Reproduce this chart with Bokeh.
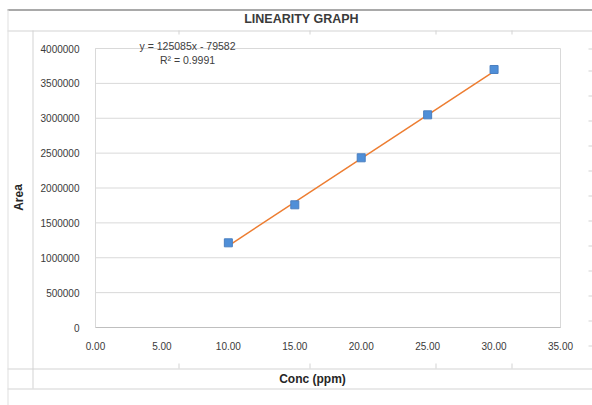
from bokeh.plotting import figure
from bokeh.models import (Range1d, FixedTicker, NumeralTickFormatter, PrintfTickFormatter,
                          Label, BoxAnnotation, LinearAxis)
from bokeh.embed import file_html
from bokeh.resources import INLINE

# ---- data ----
conc = [10, 15, 20, 25, 30]
area = [1214000, 1759000, 2433000, 3049000, 3699000]
slope = 125085
intercept = -79582
r2 = 0.9991
x_ticks = [0, 5, 10, 15, 20, 25, 30, 35]
y_ticks = [0, 500000, 1000000, 1500000, 2000000, 2500000, 3000000, 3500000, 4000000]
title_text = "LINEARITY GRAPH"
x_label = "Conc (ppm)"
y_label = "Area"

# ---- layout constants (page pixels) ----
W, H = 592, 405
FL, FT, FR, FB = 95, 48, 560, 327   # plot-area edges
X0, X1 = x_ticks[0], x_ticks[-1]
Y0, Y1 = y_ticks[0], y_ticks[-1]
kx = (FR - FL) / (X1 - X0)
ky = (FB - FT) / (Y1 - Y0)
FONT = "Liberation Sans"

p = figure(width=W, height=H, output_backend="svg", toolbar_location=None,
           x_axis_location=None, y_axis_location=None,
           x_range=Range1d(X0 - FL / kx, X1 + (W - FR) / kx),
           y_range=Range1d(Y0 - (H - FB) / ky, Y1 + FT / ky),
           min_border=0, min_border_left=0, min_border_right=0,
           min_border_top=0, min_border_bottom=0)
p.background_fill_color = "white"
p.border_fill_color = "white"
p.outline_line_color = None
p.grid.visible = False

# ---- spreadsheet background lines (screen units = canvas, y up) ----
def box(x0, x1, y0, y1, color):
    p.add_layout(BoxAnnotation(left=x0, right=x1, top=H - y0, bottom=H - y1,
                               left_units="screen", right_units="screen",
                               top_units="screen", bottom_units="screen",
                               fill_color=color, fill_alpha=1, line_color=None, level="underlay"))

def hline(x0, x1, y, color="#d4d4d4"):
    box(x0, x1, y, y + 1, color)

def vline(x, y0, y1, color="#d4d4d4"):
    box(x, x + 1, y0, y1, color)

hline(7, W, 9, "#555555")
hline(7, W, 30)
hline(7, W, 368)
hline(7, W, 388)
vline(7, 9, H, "#e0e0e0")
vline(32, 30, 388)
for cx in (178, 309, 435, 511):
    vline(cx, 30, 34)
    vline(cx, 363, 368)
for cy in (48, 70, 95, 120, 145, 170, 195, 220, 245, 270, 295, 320, 345):
    box(588, W, cy, cy + 1, "#d4d4d4")

# ---- gridlines and plot-area box ----
p.segment(x0=[X0] * len(y_ticks), x1=[X1] * len(y_ticks), y0=y_ticks, y1=y_ticks,
          line_color="#d9d9d9", line_width=1)
p.segment(x0=[X0, X1], x1=[X0, X1], y0=[Y0, Y0], y1=[Y1, Y1], line_color="#d9d9d9", line_width=1)

# ---- axes at fixed locations ----
xaxis = LinearAxis(fixed_location=Y0, bounds=(X0, X1), ticker=FixedTicker(ticks=x_ticks),
                   formatter=PrintfTickFormatter(format="%.2f"))
yaxis = LinearAxis(fixed_location=X0, bounds=(Y0, Y1), ticker=FixedTicker(ticks=y_ticks),
                   formatter=NumeralTickFormatter(format="0"))
for ax in (xaxis, yaxis):
    ax.major_tick_line_color = None
    ax.minor_tick_line_color = None
    ax.major_label_text_font = FONT
    ax.major_label_text_font_size = "10px"
    ax.major_label_text_color = "#3a3a3a"
xaxis.axis_line_color = "#bfbfbf"
yaxis.axis_line_color = "#d9d9d9"
xaxis.major_label_standoff = 8
yaxis.major_label_standoff = 10
p.add_layout(xaxis, "below")
p.add_layout(yaxis, "left")

# ---- trendline and points ----
tx = [min(conc), max(conc)]
ty = [slope * v + intercept for v in tx]
p.line(tx, ty, line_color="#ed7d31", line_width=1.5)
p.scatter(conc, area, marker="square", size=8, fill_color="#4f8fd8", line_color="#4a7fc0")

# ---- texts ----
def label(x, y, text, size, bold=False, angle=0, color="#404040"):
    p.add_layout(Label(x=x, y=H - y, x_units="screen", y_units="screen", text=text,
                       text_font=FONT, text_font_size=size,
                       text_font_style="bold" if bold else "normal",
                       text_color=color, text_align="center", text_baseline="middle",
                       angle=angle))

label(301, 18, title_text, "12.5px", bold=True, color="#3a3a3a")
label(312, 378, x_label, "12px", bold=True, color="#262626")
label(18, 197, y_label, "12px", bold=True, angle=1.5708, color="#262626")
label(187, 45, f"y = {slope}x - {abs(intercept)}", "10.5px")
label(187, 59, f"R\u00b2 = {r2}", "10.5px")

open("out.html", "w").write(file_html(p, INLINE))
